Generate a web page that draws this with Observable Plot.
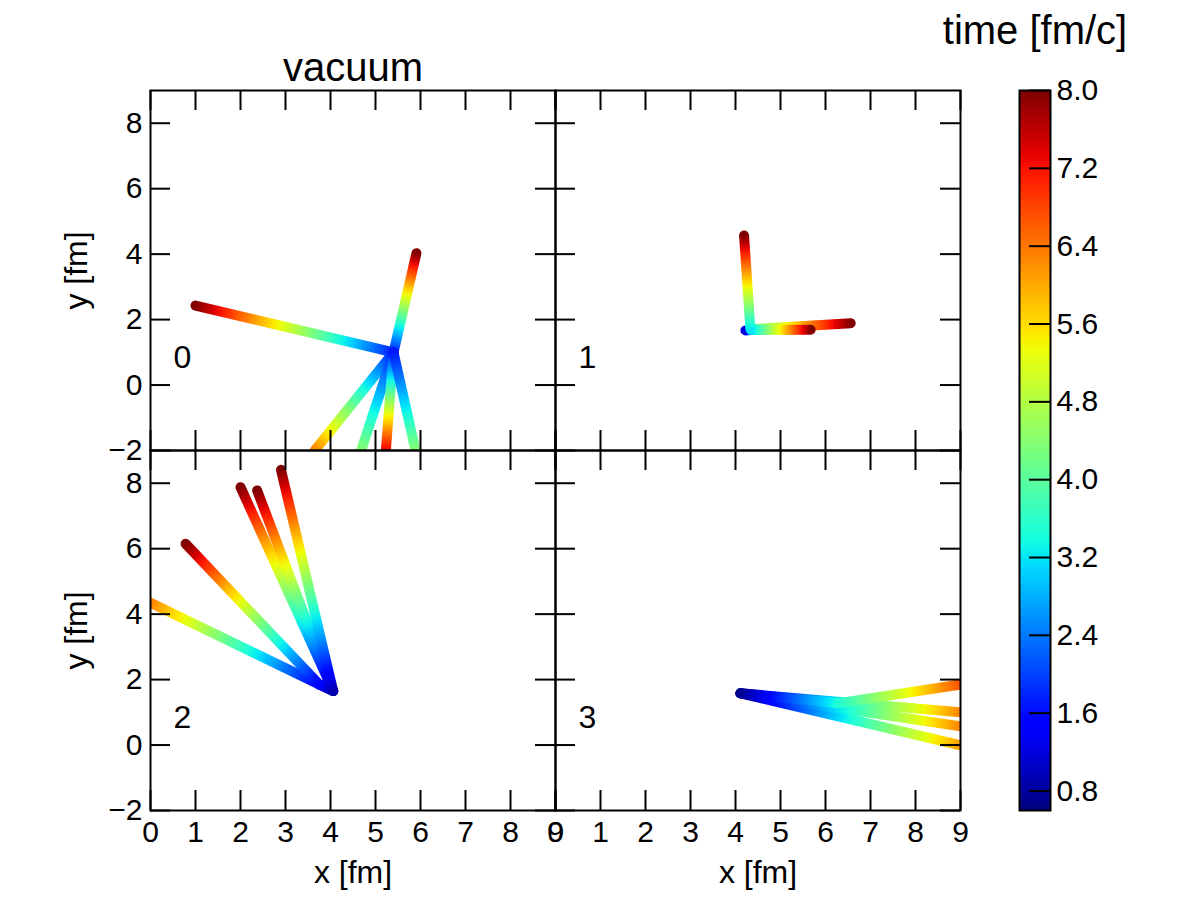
<!DOCTYPE html>
<html><head><meta charset="utf-8">
<script src="https://cdn.jsdelivr.net/npm/d3@7"></script>
<script src="https://cdn.jsdelivr.net/npm/@observablehq/plot@0.6"></script>
<style>
body{margin:0;background:white;}
#chart{position:relative;width:1200px;height:900px;}
#chart svg{position:absolute;top:0;overflow:visible;}
</style></head>
<body><div id="chart"></div>
<script>
// ---- data ----
const xTicks = [0,1,2,3,4,5,6,7,8,9];
const yTicks = [-2,0,2,4,6,8];
const cbTicks = [0.8,1.6,2.4,3.2,4.0,4.8,5.6,6.4,7.2,8.0];
const tRange = [0.6, 8.0];
const panelLabels = ["0","1","2","3"];
const title = "vacuum";
const xLabel = "x [fm]";
const yLabel = "y [fm]";
const cbLabel = "time [fm/c]";

// tracks: panel index, vertices x [fm], y [fm], time [fm/c]
const trackPanel = [0,0,0,0,0,0, 1,1,1, 2,2,2,2,2, 3,3,3,3];
const trackX = [
  [5.40,1.00],[5.40,5.91],[5.40,3.65],[5.40,4.68],[5.40,5.23],[5.40,5.89],
  [4.40,6.56],[4.22,4.35,5.67],[4.33,4.19],
  [4.06,3.75,0.00],[4.06,3.75,0.78],[4.06,2.00],[4.06,2.37],[4.06,2.90],
  [4.11,9.00],[4.11,9.00],[4.11,9.00],[4.11,6.30,9.00]
];
const trackY = [
  [1.00,2.43],[1.00,4.03],[1.00,-2.00],[1.00,-2.00],[1.00,-2.00],[1.00,-2.00],
  [1.71,1.89],[1.67,1.68,1.69],[1.72,4.57],
  [1.65,1.85,4.35],[1.65,1.85,6.15],[1.65,7.88],[1.65,7.78],[1.65,8.41],
  [1.58,-0.01],[1.58,0.57],[1.58,1.00],[1.58,1.28,1.85]
];
const trackT = [
  [1.7,8.0],[1.7,8.0],[1.7,6.3],[1.7,4.4],[1.7,7.4],[1.7,4.4],
  [4.0,8.0],[1.2,3.0,8.0],[3.2,8.0],
  [0.9,1.4,6.3],[0.9,1.4,8.0],[0.9,8.0],[0.9,8.0],[0.9,8.0],
  [0.7,6.1],[0.7,6.3],[0.7,6.3],[0.7,3.5,6.7]
];

// ---- jet colormap (matplotlib segment data) ----
const jetR=[[0,0],[0.35,0],[0.66,1],[0.89,1],[1,0.5]];
const jetG=[[0,0],[0.125,0],[0.375,1],[0.64,1],[0.91,0],[1,0]];
const jetB=[[0,0.5],[0.11,1],[0.34,1],[0.65,0],[1,0]];
function pw(p,f){for(let i=1;i<p.length;i++){if(f<=p[i][0]){const a=p[i-1],b=p[i];return a[1]+(b[1]-a[1])*(f-a[0])/(b[0]-a[0]);}}return p[p.length-1][1];}
function jet(f){f=Math.max(0,Math.min(1,f));return `rgb(${Math.round(255*pw(jetR,f))},${Math.round(255*pw(jetG,f))},${Math.round(255*pw(jetB,f))})`;}
const colorOpts = {type:"linear", domain:tRange, interpolate: jet};

// ---- build segments ----
const segs = [];
trackPanel.forEach((p,i)=>{
  for(let k=0;k<trackX[i].length-1;k++){
    const id = segs.length;
    segs.push({col:p%2,row:Math.floor(p/2),x1:trackX[i][k],y1:trackY[i][k],x2:trackX[i][k+1],y2:trackY[i][k+1],t1:trackT[i][k],t2:trackT[i][k+1],grad:`url(#trk${id})`});
  }
});
const panels = panelLabels.map((s,i)=>({s,col:i%2,row:Math.floor(i/2)}));
const font = "'Liberation Sans', Arial, sans-serif";
const mid = {textAnchor:"middle", lineAnchor:"middle"};

const plot = Plot.plot({
  width:1200, height:900,
  marginLeft:150, marginRight:240, marginTop:90, marginBottom:90,
  x:{domain:[0,9]},
  y:{domain:[-2,9]},
  fx:{domain:[0,1], padding:0, axis:null},
  fy:{domain:[0,1], padding:0, axis:null},
  color:{type:"identity"},
  style:{fontFamily:font, fontSize:"30px", color:"black", background:"white", overflow:"visible"},
  marks:[
    Plot.link(segs,{x1:"x1",y1:"y1",x2:"x2",y2:"y2",fx:"col",fy:"row",stroke:"grad",strokeWidth:10,strokeLinecap:"round",clip:true}),
    Plot.frame({stroke:"black",strokeWidth:2}),
    Plot.tickX(xTicks,{x:d=>d,insetTop:340,stroke:"black",strokeWidth:2}),
    Plot.tickX(xTicks,{x:d=>d,insetBottom:340,stroke:"black",strokeWidth:2}),
    Plot.tickY(yTicks,{y:d=>d,insetRight:385,stroke:"black",strokeWidth:2}),
    Plot.tickY(yTicks,{y:d=>d,insetLeft:385,stroke:"black",strokeWidth:2}),
    Plot.axisX(xTicks,{anchor:"bottom",tickSize:0,tickPadding:10,label:null,fontSize:30}),
    Plot.axisY(yTicks,{anchor:"left",tickSize:0,tickPadding:8,label:null,fontSize:30}),
    Plot.text(panels,{fx:"col",fy:"row",text:"s",frameAnchor:"top-left",dx:32,dy:267,fontSize:32,...mid}),
    Plot.text([xLabel,xLabel],{fx:(d,i)=>i,fy:()=>1,text:d=>d,frameAnchor:"bottom",dy:62,fontSize:32,...mid}),
    Plot.text([yLabel,yLabel],{fx:()=>0,fy:(d,i)=>i,text:d=>d,frameAnchor:"left",dx:-74,rotate:-90,fontSize:32,...mid}),
    Plot.text([title],{fx:()=>0,fy:()=>0,text:d=>d,frameAnchor:"top",dy:-22,fontSize:40,...mid})
  ]
});
plot.style.left = "0px";
document.getElementById("chart").appendChild(plot);

// gradients along each segment, colored through the Plot color scale
const cs = Plot.scale({color: colorOpts});
const svg = d3.select(plot);
const defs = svg.insert("defs", ":first-child");
const N = 24;
segs.forEach((s,i)=>{
  const g = defs.append("linearGradient").attr("id",`trk${i}`).attr("gradientUnits","userSpaceOnUse");
  for(let k=0;k<=N;k++) g.append("stop").attr("offset",k/N).attr("stop-color",cs.apply(s.t1+(s.t2-s.t1)*k/N));
});
svg.selectAll("path").each(function(){
  const st = this.getAttribute("stroke");
  if(!st || !st.startsWith("url(#trk")) return;
  const id = st.slice(5,-1);
  const nums = (this.getAttribute("d")||"").match(/-?\d*\.?\d+(?:e[-+]?\d+)?/gi).map(Number);
  const n = nums.length;
  defs.select("#"+id).attr("x1",nums[0]).attr("y1",nums[1]).attr("x2",nums[n-2]).attr("y2",nums[n-1]);
});

// colorbar
const cb = Plot.plot({
  width:270, height:900,
  marginLeft:89, marginRight:150, marginTop:90, marginBottom:90,
  x:{domain:[0,1], axis:null},
  y:{domain:tRange},
  color:colorOpts,
  style:{fontFamily:font, fontSize:"30px", color:"black", background:"transparent", overflow:"visible"},
  marks:[
    Plot.raster({x1:0,x2:1,y1:tRange[0],y2:tRange[1],fill:(x,y)=>y}),
    Plot.tickY(cbTicks,{y:d=>d,insetLeft:10,stroke:"black",strokeWidth:2}),
    Plot.frame({stroke:"black",strokeWidth:2}),
    Plot.axisY(cbTicks,{anchor:"right",tickSize:0,tickPadding:6,tickFormat:d3.format(".1f"),label:null,fontSize:30}),
    Plot.text([cbLabel],{text:d=>d,frameAnchor:"top",dy:-59,fontSize:40,...mid})
  ]
});
cb.style.left = "930px";
document.getElementById("chart").appendChild(cb);
</script>
</body></html>
